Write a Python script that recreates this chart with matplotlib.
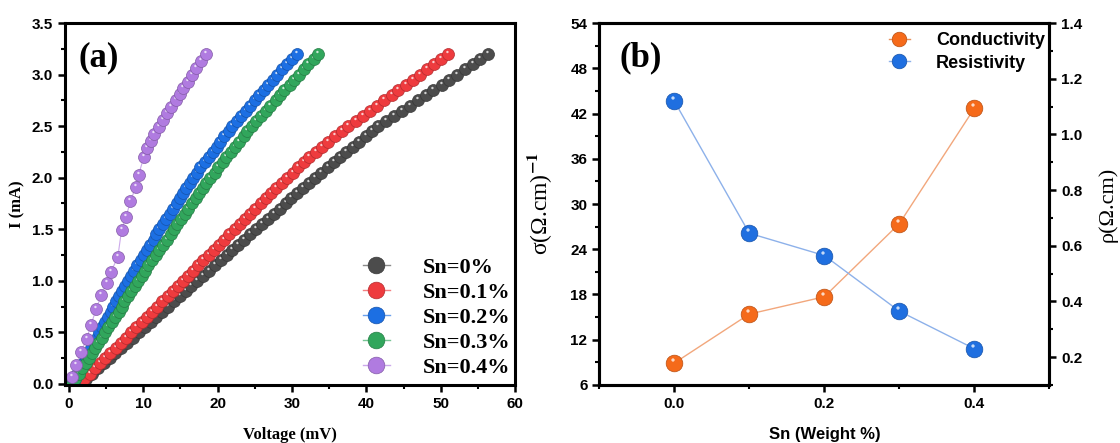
import numpy as np
import matplotlib
matplotlib.use("Agg")
import matplotlib.pyplot as plt
from matplotlib.path import Path
from matplotlib.lines import Line2D
from matplotlib.legend_handler import HandlerTuple
from matplotlib.ticker import MultipleLocator, FormatStrFormatter
from matplotlib.colors import to_rgb

plt.rcParams["font.family"] = ["Liberation Sans", "DejaVu Sans"]
plt.rcParams["font.weight"] = "bold"
plt.rcParams["mathtext.fontset"] = "stix"

# ---- panel (a): I-V curves ----
current = [0.00, 0.05, 0.10, 0.15, 0.20, 0.25, 0.30, 0.35, 0.40, 0.45,
           0.50, 0.55, 0.60, 0.65, 0.70, 0.75, 0.80, 0.85, 0.90, 0.95,
           1.00, 1.05, 1.10, 1.15, 1.20, 1.25, 1.30, 1.35, 1.40, 1.45,
           1.50, 1.55, 1.60, 1.65, 1.70, 1.75, 1.80, 1.85, 1.90, 1.95,
           2.00, 2.05, 2.10, 2.15, 2.20, 2.25, 2.30, 2.35, 2.40, 2.45,
           2.50, 2.55, 2.60, 2.65, 2.70, 2.75, 2.80, 2.85, 2.90, 2.95,
           3.00, 3.05, 3.10, 3.15, 3.20]

v_sn0 = [1.5, 2.3, 3.1, 3.9, 4.7, 5.5, 6.2, 7.0, 7.8, 8.6,
         9.4, 10.2, 11.0, 11.8, 12.6, 13.4, 14.1, 14.9, 15.7, 16.5,
         17.3, 18.1, 18.9, 19.7, 20.5, 21.3, 22.0, 22.8, 23.6, 24.4,
         25.2, 26.0, 26.8, 27.6, 28.4, 29.2, 29.9, 30.7, 31.5, 32.3,
         33.1, 33.9, 34.8, 35.6, 36.4, 37.3, 38.2, 39.0, 39.9, 40.7,
         41.6, 42.7, 43.7, 44.8, 45.8, 46.9, 48.0, 49.0, 50.1, 51.1,
         52.2, 53.2, 54.3, 55.3, 56.3]
v_sn01 = [1.4, 2.1, 2.8, 3.5, 4.2, 4.9, 5.6, 6.3, 7.0, 7.7,
          8.4, 9.1, 9.8, 10.5, 11.2, 11.9, 12.6, 13.3, 14.0, 14.7,
          15.4, 16.0, 16.7, 17.4, 18.1, 18.8, 19.5, 20.2, 20.9, 21.6,
          22.3, 23.0, 23.7, 24.4, 25.1, 25.8, 26.5, 27.2, 27.9, 28.6,
          29.3, 30.1, 30.8, 31.6, 32.3, 33.2, 34.1, 34.9, 35.8, 36.7,
          37.6, 38.6, 39.5, 40.5, 41.4, 42.4, 43.4, 44.3, 45.3, 46.2,
          47.2, 48.1, 49.1, 50.0, 51.0]
v_sn02 = [0.4, 0.8, 1.1, 1.5, 1.9, 2.3, 2.6, 3.0, 3.4, 3.8,
          4.1, 4.5, 4.9, 5.3, 5.7, 6.0, 6.4, 6.8, 7.2, 7.6,
          8.0, 8.4, 8.8, 9.2, 9.7, 10.1, 10.5, 10.9, 11.4, 11.8,
          12.2, 12.7, 13.1, 13.6, 14.0, 14.5, 14.9, 15.4, 15.8, 16.3,
          16.7, 17.2, 17.7, 18.3, 18.8, 19.4, 19.9, 20.4, 20.9, 21.5,
          22.0, 22.6, 23.2, 23.8, 24.4, 25.0, 25.6, 26.2, 26.8, 27.4,
          28.0, 28.7, 29.4, 30.0, 30.7]
v_sn03 = [0.5, 0.9, 1.4, 1.8, 2.3, 2.7, 3.1, 3.6, 4.0, 4.5,
          4.9, 5.3, 5.8, 6.2, 6.7, 7.1, 7.5, 8.0, 8.4, 8.9,
          9.3, 9.8, 10.3, 10.7, 11.2, 11.7, 12.2, 12.7, 13.2, 13.7,
          14.1, 14.6, 15.1, 15.6, 16.1, 16.6, 17.1, 17.5, 18.0, 18.5,
          19.0, 19.6, 20.1, 20.7, 21.2, 21.8, 22.4, 22.9, 23.5, 24.0,
          24.6, 25.2, 25.9, 26.5, 27.1, 27.8, 28.4, 29.0, 29.7, 30.3,
          30.9, 31.6, 32.2, 32.9, 33.5]
v_sn04 = [0.4, 1.0, 1.7, 2.4, 3.0, 3.7, 4.4, 5.1, 5.7, 6.6, 7.1, 7.7, 8.3, 9.0, 9.4,
          10.1, 10.5, 11.1, 11.5, 12.1, 12.7, 13.2, 13.8, 14.4, 14.9, 15.4, 16.0,
          16.6, 17.1, 17.8, 18.5]
i_sn04 = [0.07, 0.18, 0.31, 0.44, 0.57, 0.73, 0.86, 0.98, 1.09, 1.23, 1.49, 1.62,
          1.77, 1.91, 2.03, 2.20, 2.29, 2.36, 2.42, 2.49, 2.56, 2.63, 2.69, 2.75,
          2.81, 2.87, 2.93, 3.00, 3.06, 3.13, 3.20]

labels_a = ["Sn=0%", "Sn=0.1%", "Sn=0.2%", "Sn=0.3%", "Sn=0.4%"]
colors_a = ["#4c4c4c", "#ee3b3e", "#1c6fe3", "#31a65c", "#b07be0"]

# ---- panel (b): conductivity / resistivity ----
weight = [0.0, 0.1, 0.2, 0.3, 0.4]
conductivity = [8.9, 15.4, 17.7, 27.4, 42.7]
resistivity = [1.12, 0.645, 0.565, 0.365, 0.23]


def darker(c, f=0.75):
    r, g, b = to_rgb(c)
    return (r * f, g * f, b * f)


def lighter(c, f=0.35):
    r, g, b = to_rgb(c)
    return (r + (1 - r) * f, g + (1 - g) * f, b + (1 - b) * f)


# white glint marker, offset up-left inside the ball
_circ = Path.circle(center=(-0.18, 0.42), radius=0.2)
glint = Path(np.vstack([[-1.0, -1.0], [1.0, 1.0], _circ.vertices]),
             np.concatenate([[Path.MOVETO, Path.MOVETO], _circ.codes]))


def balls(ax, xs, ys, color, ms, line_color, lw=0.8):
    ax.plot(xs, ys, "-", color=line_color, lw=lw, zorder=2)
    for x, y in zip(xs, ys):
        ax.plot([x], [y], "o", ms=ms, mfc=color, mec=darker(color), mew=0.5, zorder=2)
        ax.plot([x], [y], ls="none", marker=glint, ms=ms, mfc="white", mew=0,
                alpha=0.75, zorder=2)


def ball_handle(color, line_color, ms, lw=1.0):
    base = Line2D([], [], color=line_color, lw=lw, marker="o", ms=ms,
                  mfc=color, mec=darker(color), mew=0.5)
    hl = Line2D([], [], ls="none", marker=glint, ms=ms, mfc="white", mew=0, alpha=0.75)
    return (base, hl)


def style_axes(ax):
    for s in ax.spines.values():
        s.set_linewidth(2.2)
    ax.tick_params(which="major", direction="out", length=5, width=1.8, labelsize=11)
    ax.tick_params(which="minor", direction="out", length=3, width=1.5)


fig = plt.figure(figsize=(11.2, 4.43), dpi=100)

ax1 = fig.add_axes([0.058, 0.131, 0.402, 0.817])
series_v = [v_sn0, v_sn01, v_sn02, v_sn03, v_sn04]
series_i = [current, current, current, current, i_sn04]
for v, i, c in zip(series_v, series_i, colors_a):
    balls(ax1, v, i, c, 8.6, lighter(c))
ax1.set_xlim(-0.5, 60)
ax1.set_ylim(-0.01, 3.5)
ax1.xaxis.set_major_locator(MultipleLocator(10))
ax1.xaxis.set_minor_locator(MultipleLocator(5))
ax1.yaxis.set_major_locator(MultipleLocator(0.5))
ax1.yaxis.set_minor_locator(MultipleLocator(0.25))
ax1.yaxis.set_major_formatter(FormatStrFormatter("%.1f"))
style_axes(ax1)
ax1.set_xlabel("Voltage (mV)", family="Liberation Serif", fontsize=12, fontweight="bold")
ax1.set_ylabel("I (mA)", family="Liberation Serif", fontsize=12, fontweight="bold")
ax1.xaxis.set_label_coords(0.5, -0.115)
ax1.yaxis.set_label_coords(-0.088, 0.5)
ax1.text(0.03, 0.905, "(a)", transform=ax1.transAxes, family="Liberation Serif",
         fontsize=25, fontweight="bold", va="center", ha="left")
handles = [ball_handle(c, lighter(c), 12) for c in colors_a]
ax1.legend(handles, labels_a, loc="lower right", bbox_to_anchor=(0.99, 0.02),
           borderaxespad=0, borderpad=0, frameon=False, handlelength=2.4,
           handletextpad=0.3, labelspacing=0.2,
           handler_map={tuple: HandlerTuple(ndivide=None, pad=0)},
           prop={"family": "Liberation Serif", "weight": "bold", "size": 16})

ax2 = fig.add_axes([0.535, 0.131, 0.402, 0.817])
ax3 = ax2.twinx()
orange, blue = "#f56a1a", "#1f6fe0"
balls(ax2, weight, conductivity, orange, 12, "#f2a77c", lw=1.0)
balls(ax3, weight, resistivity, blue, 12, "#8db1ea", lw=1.0)
ax2.set_xlim(-0.1, 0.5)
ax2.set_ylim(6, 54)
ax3.set_ylim(0.1, 1.4)
ax2.xaxis.set_major_locator(MultipleLocator(0.2))
ax2.xaxis.set_minor_locator(MultipleLocator(0.1))
ax2.yaxis.set_major_locator(MultipleLocator(6))
ax2.yaxis.set_minor_locator(MultipleLocator(3))
ax3.yaxis.set_major_locator(MultipleLocator(0.2))
ax3.yaxis.set_minor_locator(MultipleLocator(0.1))
ax2.xaxis.set_major_formatter(FormatStrFormatter("%.1f"))
ax3.yaxis.set_major_formatter(FormatStrFormatter("%.1f"))
style_axes(ax2)
style_axes(ax3)
ax2.set_xlabel("Sn (Weight %)", fontsize=12, fontweight="bold")
ax2.xaxis.set_label_coords(0.5, -0.115)
ax2.set_ylabel("σ(Ω.cm)$^{-1}$", family="Liberation Serif", fontsize=17, fontweight="normal")
ax2.yaxis.set_label_coords(-0.1, 0.5)
ax3.set_ylabel("ρ(Ω.cm)", family="Liberation Serif", fontsize=16, fontweight="normal")
ax3.yaxis.set_label_coords(1.108, 0.5)
ax2.text(0.044, 0.905, "(b)", transform=ax2.transAxes, family="Liberation Serif",
         fontsize=25, fontweight="bold", va="center", ha="left")
hb = [ball_handle(orange, "#e8915c", 10.5), ball_handle(blue, "#8db1ea", 10.5)]
ax3.legend(hb, ["Conductivity", "Resistivity"], loc="upper right",
           bbox_to_anchor=(0.99, 0.975), borderaxespad=0, borderpad=0, frameon=False,
           handlelength=2.3, handletextpad=0.3, labelspacing=0.3,
           handler_map={tuple: HandlerTuple(ndivide=None, pad=0)},
           prop={"weight": "bold", "size": 13})

fig.savefig("out.png", dpi=100)
